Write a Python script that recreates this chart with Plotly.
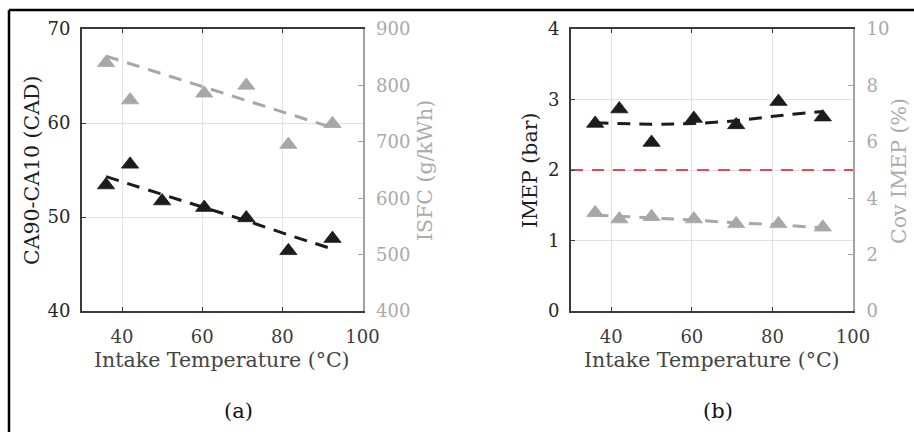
import plotly.graph_objects as go

# ---------------- data ----------------
temp = [36, 42, 50, 60.5, 71, 81.5, 92.5]

# panel (a)
ca90_ca10 = [53.4, 55.6, 51.7, 51.0, 49.9, 46.4, 47.7]
ca_fit_x = [36, 50, 60.5, 71, 81.5, 92.5]
ca_fit_y = [54.3, 52.4, 51.0, 49.6, 48.1, 46.6]
isfc_temp = [36, 42, 60.5, 71, 81.5, 92.5]
isfc = [840, 774, 786, 800, 695, 732]
isfc_fit_x = [36, 92.5]
isfc_fit_y = [852, 725]

# panel (b)
imep = [2.66, 2.865, 2.39, 2.73, 2.64, 2.97, 2.75]
imep_fit_x = [36, 50, 60.5, 71, 81.5, 92.5]
imep_fit_y = [2.67, 2.65, 2.66, 2.70, 2.77, 2.83]
cov = [3.48, 3.26, 3.34, 3.26, 3.09, 3.09, 2.97]
cov_fit_x = [36, 50, 60.5, 71, 81.5, 92.5]
cov_fit_y = [3.40, 3.30, 3.22, 3.13, 3.05, 2.95]
limit_x = [30, 100]
limit_y = [2, 2]

x_ticks = [40, 60, 80, 100]

BLACK = "#1c1c1c"
GRAY = "#a7a7a7"
AXDARK = "#3a3a3a"
AXGRAY = "#a3a3a3"
GRID = "#e2e2e2"
FONT = "DejaVu Serif"

fig = go.Figure()

def marks(x, y, color, xa, ya):
    fig.add_trace(go.Scatter(x=x, y=y, mode="markers", xaxis=xa, yaxis=ya,
                             marker=dict(symbol="triangle-up", size=15, color=color,
                                         line=dict(width=0.8, color=color))))

def fit(x, y, color, xa, ya, dash="13px,9px", width=3):
    fig.add_trace(go.Scatter(x=x, y=y, mode="lines", xaxis=xa, yaxis=ya,
                             line=dict(color=color, width=width, dash=dash, shape="spline")))

# (a)
fit(isfc_fit_x, isfc_fit_y, GRAY, "x", "y2")
marks(isfc_temp, isfc, GRAY, "x", "y2")
marks(temp, ca90_ca10, BLACK, "x", "y")
fit(ca_fit_x, ca_fit_y, BLACK, "x", "y")

# (b)
fig.add_trace(go.Scatter(x=limit_x, y=limit_y, mode="lines", xaxis="x2", yaxis="y3",
                         line=dict(color="#e8474c", width=2, dash="12px,9px")))
fit(cov_fit_x, cov_fit_y, GRAY, "x2", "y4")
marks(temp, cov, GRAY, "x2", "y4")
marks(temp, imep, BLACK, "x2", "y3")
fit(imep_fit_x, imep_fit_y, BLACK, "x2", "y3")

W, H = 914, 432
ax_a = [82 / W, 362.5 / W]
ax_b = [571 / W, 853 / W]
ydom = [1 - 311 / H, 1 - 29 / H]

tickfont_dark = dict(family=FONT, size=18, color="#262626")
tickfont_gray = dict(family=FONT, size=18, color="#a9a9a9")
xtickfont = dict(family=FONT, size=18, color="#3c3c3c")

def xax(domain, anchor):
    return dict(domain=domain, anchor=anchor, range=[30, 100], tickvals=x_ticks,
                showgrid=True, gridcolor=GRID, gridwidth=1, zeroline=False,
                showline=True, linecolor=AXDARK, linewidth=2, mirror="ticks",
                ticks="inside", ticklen=4, tickcolor=AXDARK, automargin=False,
                tickfont=xtickfont, ticklabelstandoff=8)

def yleft(rng, dtick, anchor):
    return dict(domain=ydom, anchor=anchor, range=rng, dtick=dtick,
                showgrid=True, gridcolor=GRID, gridwidth=1, zeroline=False,
                showline=True, linecolor=AXDARK, linewidth=2, automargin=False,
                ticks="inside", ticklen=4, tickcolor=AXDARK,
                tickfont=tickfont_dark, ticklabelstandoff=6)

def yright(rng, dtick, anchor, over):
    return dict(range=rng, dtick=dtick, anchor=anchor, overlaying=over, side="right",
                showgrid=False, zeroline=False, automargin=False,
                showline=True, linecolor=AXGRAY, linewidth=2,
                ticks="inside", ticklen=5, tickcolor=AXGRAY,
                tickfont=tickfont_gray, ticklabelstandoff=8)

def ann(text, x, y, color, size=20.5, angle=0):
    return dict(text=text, x=x / W, y=1 - y / H, xref="paper", yref="paper",
                showarrow=False, textangle=angle, xanchor="center", yanchor="middle",
                font=dict(family=FONT, size=size, color=color))

fig.update_layout(
    width=W, height=H, margin=dict(l=0, r=0, t=0, b=0, pad=0, autoexpand=False),
    paper_bgcolor="white", plot_bgcolor="white", showlegend=False,
    xaxis=xax(ax_a, "y"),
    yaxis=yleft([40, 70], 10, "x"),
    yaxis2=yright([400, 900], 100, "x", "y"),
    xaxis2=xax(ax_b, "y3"),
    yaxis3=yleft([0, 4], 1, "x2"),
    yaxis4=yright([0, 10], 2, "x2", "y3"),
    annotations=[
        ann("CA90-CA10 (CAD)", 32, 170, "#1e1e1e", angle=-90),
        ann("ISFC (g/kWh)", 425, 171, "#ababab", angle=-90),
        ann("Intake Temperature (°C)", 222, 360, "#444444"),
        ann("IMEP (bar)", 530, 170, "#1e1e1e", angle=-90),
        ann("Cov IMEP (%)", 899, 171, "#ababab", angle=-90),
        ann("Intake Temperature (°C)", 712, 360, "#444444"),
        ann("(a)", 238, 411, "#111111", size=21),
        ann("(b)", 718, 411, "#111111", size=21),
    ],
    shapes=[
        dict(type="line", xref="paper", yref="paper", x0=9 / W, x1=1.02,
             y0=1 - 10 / H, y1=1 - 10 / H, line=dict(color="black", width=2.5)),
        dict(type="line", xref="paper", yref="paper", x0=9 / W, x1=9 / W,
             y0=1 - 10 / H, y1=-0.05, line=dict(color="black", width=2.5)),
    ],
)

fig.write_html(
    "out.html",
    config={"displayModeBar": False},
    post_script="document.body.style.margin='0';document.body.style.overflow='hidden';",
)
